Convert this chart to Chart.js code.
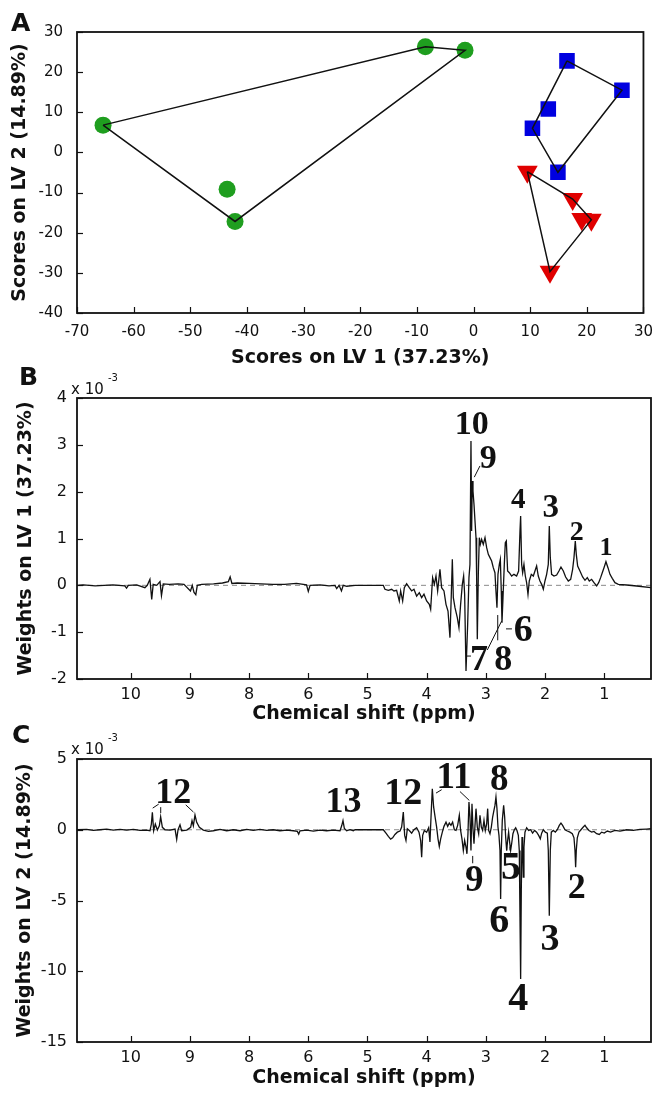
<!DOCTYPE html>
<html><head><meta charset="utf-8">
<script src="https://cdn.jsdelivr.net/npm/chart.js@4.4.1/dist/chart.umd.min.js"></script>
<style>
html,body{margin:0;padding:0;background:#fff;}
#fig{position:relative;width:663px;height:1097px;overflow:hidden;background:#fff;}
.panel{position:absolute;left:0;width:663px;}
.letter{position:absolute;font-family:"DejaVu Sans",sans-serif;font-weight:bold;font-size:25px;line-height:1;color:#111;}
.mult{position:absolute;font-family:"DejaVu Sans",sans-serif;font-size:15px;line-height:1;color:#111;white-space:nowrap;}
.sup{position:absolute;font-family:"DejaVu Sans",sans-serif;font-size:10px;line-height:1;color:#111;white-space:nowrap;}
</style></head>
<body>
<div id="fig">
  <div class="panel" style="top:0;height:372px;"><canvas id="cA"></canvas></div>
  <div class="panel" style="top:360px;height:370px;"><canvas id="cB"></canvas></div>
  <div class="panel" style="top:720px;height:377px;"><canvas id="cC"></canvas></div>
  <div class="letter" style="left:11px;top:10px;">A</div>
  <div class="letter" style="left:19px;top:364px;">B</div>
  <div class="letter" style="left:12px;top:722px;">C</div>
  <div class="mult" style="left:71px;top:382px;">x 10</div>
  <div class="sup" style="left:108px;top:373px;">-3</div>
  <div class="mult" style="left:71px;top:742px;">x 10</div>
  <div class="sup" style="left:108px;top:733px;">-3</div>
</div>
<script>
// ---------- Panel A: PLS-DA scores ----------
const greenX = [-65.4, -43.5, -42.1, -8.5, -1.5];
const greenY = [6.8, -9.2, -17.2, 26.3, 25.45];
const greenHull = [0, 3, 4, 2, 0];
const blueX = [16.5, 26.2, 13.2, 10.4, 14.9];
const blueY = [22.8, 15.5, 10.8, 6.0, -4.95];
const blueHull = [0, 1, 4, 3, 0];
const redX = [9.5, 17.5, 19.1, 20.8, 13.5];
const redY = [-4.8, -11.6, -16.6, -16.8, -29.7];
const redHull = [0, 1, 3, 4, 0];

// ---------- Panel B / C: loading spectra (axis units, weights x 1e-3) ----------
const ppmTickPos = [9, 8, 7, 6, 5, 4, 3, 2, 1];
const ppmTickLabels = ['10', '9', '8', '6', '5', '4', '3', '2', '1'];

const spectrumLV1 = [
[9.907,0],[9.8,0.01],[9.6,-0.01],[9.45,0.0],[9.3,0.01],[9.1,-0.01],[9.07,-0.06],[9.04,0.0],[8.9,0.01],[8.76,-0.05],[8.72,0.0],[8.675,0.13],[8.645,-0.3],[8.62,0.02],[8.56,0.0],[8.505,0.08],[8.48,-0.22],[8.45,0.03],[8.35,0.02],[8.2,0.03],[8.1,0.02],[7.99,-0.12],[7.96,0.0],[7.93,-0.15],[7.9,-0.2],[7.875,0.0],[7.8,0.02],[7.6,0.03],[7.45,0.05],[7.35,0.08],[7.32,0.18],[7.29,0.04],[7.2,0.05],[7.0,0.04],[6.8,0.03],[6.6,0.02],[6.4,0.02],[6.2,0.04],[6.03,0.01],[6.0,-0.13],[5.97,0.0],[5.8,0.01],[5.65,-0.01],[5.55,0.0],[5.52,-0.07],[5.48,0.0],[5.44,-0.12],[5.41,0.0],[5.35,-0.02],[5.21,0.0],
[4.733,0.0],[4.705,-0.085],[4.648,-0.107],[4.592,-0.085],[4.553,-0.12],[4.508,-0.107],[4.463,-0.335],[4.44,-0.12],[4.406,-0.335],[4.378,-0.05],[4.339,0.036],[4.294,-0.05],[4.254,-0.12],[4.215,-0.085],[4.17,-0.23],[4.125,-0.157],[4.085,-0.263],[4.046,-0.19],[4.001,-0.335],[3.956,-0.406],[3.933,-0.512],[3.9,0.164],[3.871,0.02],[3.843,0.2],[3.815,-0.12],[3.776,0.342],[3.748,-0.05],[3.708,-0.12],[3.674,-0.406],[3.64,-0.548],[3.607,-1.117],[3.584,-0.19],[3.567,0.555],[3.55,-0.263],[3.522,-0.477],[3.483,-0.69],[3.455,-0.904],[3.427,-0.406],[3.398,0.02],[3.376,0.2],[3.359,-0.19],[3.336,-1.829],[3.308,-0.833],[3.286,0.164],[3.269,0.448],[3.252,3.082],[3.241,1.16],[3.23,2.228],[3.218,2.014],[3.201,1.73],[3.184,1.374],[3.167,1.018],[3.156,0.164],[3.145,-1.153],[3.128,0.235],[3.111,1.018],[3.094,0.875],[3.072,0.982],[3.044,0.875],[3.015,1.018],[2.987,0.804],[2.959,0.662],[2.931,0.591],[2.903,0.52],[2.875,0.377],[2.847,0.27],[2.83,-0.121],[2.813,-0.477],[2.796,0.235],[2.773,0.448],[2.756,0.555],[2.74,-0.121],[2.728,-0.797],[2.711,-0.263],[2.689,0.448],[2.672,0.911],[2.655,0.947],[2.633,0.306],[2.604,0.27],[2.565,0.199],[2.526,0.235],[2.481,0.199],[2.447,0.306],[2.424,1.16],[2.413,1.48],[2.396,0.448],[2.379,0.27],[2.357,0.448],[2.334,0.199],[2.312,0.057],[2.289,-0.192],[2.267,0.093],[2.233,0.235],[2.199,0.199],[2.171,0.306],[2.143,0.413],[2.115,0.199],[2.087,0.093],[2.058,0.021],[2.03,-0.085],[2.002,0.093],[1.974,0.235],[1.946,0.448],[1.929,1.267],[1.912,0.591],[1.89,0.235],[1.85,0.199],[1.805,0.221],[1.766,0.306],[1.732,0.391],[1.692,0.306],[1.653,0.178],[1.608,0.093],[1.568,0.128],[1.535,0.342],[1.512,0.591],[1.49,0.947],[1.473,0.662],[1.45,0.413],[1.411,0.306],[1.366,0.178],[1.326,0.107],[1.287,0.164],[1.253,0.093],[1.214,0.128],[1.174,0.057],[1.129,-0.014],[1.095,0.057],[1.062,0.164],[1.034,0.27],[1.005,0.377],[0.972,0.505],[0.938,0.377],[0.904,0.235],[0.865,0.149],[0.82,0.057],[0.763,0.021],[0.622,0.007],[0.454,-0.014],[0.211,-0.05]
];

const spectrumLV2 = [
[9.907,0],[9.744,0.02],[9.631,-0.05],[9.518,0],[9.406,0.05],[9.293,-0.02],[9.18,0.02],[9.068,-0.02],[8.955,0.02],[8.843,-0.05],[8.73,-0.02],[8.674,-0.07],[8.651,0.4],[8.634,1.23],[8.612,-0.07],[8.584,0.4],[8.55,-0.02],[8.516,0.28],[8.494,0.92],[8.465,0.17],[8.42,0],[8.336,-0.02],[8.251,0.05],[8.223,-0.68],[8.201,-0.02],[8.167,0.35],[8.139,-0.07],[8.054,-0.02],[7.987,0.17],[7.964,0.64],[7.942,0.28],[7.914,1.04],[7.885,0.52],[7.84,0.17],[7.773,-0.02],[7.688,-0.12],[7.604,-0.07],[7.491,0.02],[7.379,-0.07],[7.266,0],[7.153,-0.07],[7.041,0.02],[6.928,-0.05],[6.816,0.02],[6.703,-0.05],[6.59,0],[6.478,-0.07],[6.365,-0.02],[6.253,-0.07],[6.185,-0.12],[6.162,-0.31],[6.14,-0.07],[6.027,-0.02],[5.915,-0.09],[5.802,-0.02],[5.69,-0.07],[5.577,-0.02],[5.464,-0.07],[5.436,0.28],[5.414,0.64],[5.391,0.09],[5.352,-0.07],[5.295,0],[5.239,-0.07],[5.211,0],
[4.733,0],[4.688,-0.24],[4.648,-0.47],[4.609,-0.66],[4.575,-0.57],[4.536,-0.33],[4.496,-0.17],[4.451,-0.09],[4.423,0.19],[4.395,1.25],[4.372,-0.4],[4.35,-0.76],[4.327,0.07],[4.294,-0.05],[4.254,-0.24],[4.215,0],[4.17,0.14],[4.13,-0.17],[4.102,-0.76],[4.085,-1.94],[4.068,-0.4],[4.04,-0.05],[4.001,-0.17],[3.967,0.14],[3.945,-0.87],[3.922,1.37],[3.905,2.9],[3.883,1.61],[3.854,0.78],[3.832,0.19],[3.809,-0.64],[3.787,-1.18],[3.764,-0.64],[3.736,-0.17],[3.708,0.24],[3.674,0.54],[3.646,0.24],[3.618,0.47],[3.59,0.31],[3.562,0.54],[3.533,0],[3.505,-0.05],[3.477,0.31],[3.449,1.02],[3.427,-0.05],[3.404,-0.64],[3.381,-1.46],[3.359,-0.76],[3.336,-1.23],[3.32,-1.7],[3.303,-0.28],[3.286,1.96],[3.269,0.9],[3.252,-1.46],[3.235,1.84],[3.218,0.07],[3.201,-0.99],[3.184,0.31],[3.167,1.49],[3.145,0.19],[3.122,-0.28],[3.1,1.02],[3.077,0.19],[3.055,-0.05],[3.032,0.66],[3.01,-0.05],[2.987,0.42],[2.97,1.49],[2.953,-0.05],[2.931,-0.28],[2.908,0.19],[2.886,0.9],[2.864,1.37],[2.847,1.72],[2.83,2.31],[2.813,1.49],[2.796,0.19],[2.779,-0.4],[2.762,-1.46],[2.751,-4.89],[2.74,-1.46],[2.723,0.66],[2.7,1.72],[2.683,0.9],[2.666,-0.52],[2.649,-1.46],[2.633,-0.76],[2.616,-0.17],[2.599,-0.87],[2.582,-1.46],[2.565,-0.99],[2.543,-0.28],[2.52,0],[2.497,0.14],[2.475,-0.05],[2.452,-0.4],[2.436,-1.46],[2.424,-6.19],[2.413,-10.55],[2.402,-4.3],[2.39,-0.52],[2.379,-1.23],[2.368,-3.35],[2.357,-1.23],[2.34,-0.17],[2.312,0.14],[2.278,-0.05],[2.244,0],[2.211,-0.24],[2.177,-0.05],[2.143,-0.17],[2.109,-0.4],[2.081,-0.64],[2.058,-0.24],[2.03,0],[1.996,-0.17],[1.962,-0.24],[1.946,-1.46],[1.929,-6.07],[1.912,-1.46],[1.895,-0.17],[1.861,-0.05],[1.827,-0.17],[1.794,0],[1.76,0.31],[1.732,0.47],[1.704,0.31],[1.664,0],[1.625,-0.09],[1.58,-0.17],[1.54,-0.28],[1.512,-0.57],[1.495,-1.46],[1.484,-2.64],[1.473,-1.46],[1.456,-0.57],[1.428,-0.17],[1.394,0],[1.355,0.19],[1.326,0.31],[1.298,0.14],[1.259,-0.05],[1.214,-0.17],[1.174,-0.12],[1.129,-0.28],[1.084,-0.33],[1.045,-0.17],[1.0,-0.24],[0.949,-0.09],[0.893,-0.17],[0.82,-0.05],[0.735,-0.09],[0.622,0],[0.51,-0.05],[0.397,0.02],[0.285,0.05],[0.211,0.07]
];

// peak annotations: [text, ppm, weight, fontSize]
const peakLabelsB = [
  ['10', 3.24, 3.47, 34], ['9', 2.96, 2.76, 34], ['4', 2.453, 1.87, 29], ['3', 1.904, 1.69, 33],
  ['2', 1.466, 1.16, 28], ['1', 0.97, 0.84, 26], ['6', 2.368, -0.905, 38], ['7', 3.116, -1.546, 36], ['8', 2.706, -1.546, 36]
];
const leaderLinesB = [
  [3.196, 2.31, 3.10, 2.55], [2.66, -0.93, 2.56, -0.93], [3.324, -1.51, 3.252, -1.51],
  [2.976, -1.38, 2.733, -0.76], [2.80, -0.634, 2.80, -1.174]
];
const peakLabelsC = [
  ['12', 8.28, 2.75, 36], ['13', 5.404, 2.12, 36], ['12', 4.395, 2.7, 38], ['11', 3.539, 3.82, 37],
  ['8', 2.775, 3.71, 37], ['9', 3.198, -3.48, 37], ['5', 2.576, -2.54, 40], ['6', 2.775, -6.26, 40],
  ['4', 2.453, -11.75, 40], ['3', 1.917, -7.56, 38], ['2', 1.466, -3.96, 36]
];
const leaderLinesC = [
  [8.628, 1.53, 8.527, 1.81], [8.493, 1.60, 8.493, 1.18], [8.07, 1.76, 7.94, 1.25],
  [3.843, 2.59, 3.747, 2.83], [3.438, 2.70, 3.28, 2.07], [3.223, -1.85, 3.223, -2.37],
  [2.649, -1.19, 2.649, -1.47], [2.593, -1.19, 2.593, -1.47]
];

// ---------- shared styling ----------
const INK = '#111';
const SANS = '"DejaVu Sans", sans-serif';
const framePlugin = {
  id: 'frameTicks',
  afterDatasetsDraw(chart) {
    const {ctx, chartArea: a} = chart;
    const xs = chart.scales.x, ys = chart.scales.y;
    ctx.save();
    ctx.strokeStyle = INK;
    ctx.lineWidth = 1.2;
    xs.ticks.forEach(t => {
      const p = Math.round(xs.getPixelForValue(t.value)) + 0.5;
      ctx.beginPath(); ctx.moveTo(p, a.bottom); ctx.lineTo(p, a.bottom - 6); ctx.stroke();
    });
    ys.ticks.forEach(t => {
      const p = Math.round(ys.getPixelForValue(t.value)) + 0.5;
      ctx.beginPath(); ctx.moveTo(a.left, p); ctx.lineTo(a.left + 6, p); ctx.stroke();
    });
    ctx.lineWidth = 1.8;
    ctx.strokeRect(a.left, a.top, a.right - a.left, a.bottom - a.top);
    ctx.restore();
  }
};
function annotationPlugin(labels, leaders) {
  return {
    id: 'peakAnnotations',
    afterDatasetsDraw(chart) {
      const {ctx} = chart;
      const xs = chart.scales.x, ys = chart.scales.y;
      ctx.save();
      ctx.strokeStyle = INK; ctx.lineWidth = 1;
      leaders.forEach(l => {
        ctx.beginPath();
        ctx.moveTo(xs.getPixelForValue(l[0]), ys.getPixelForValue(l[1]));
        ctx.lineTo(xs.getPixelForValue(l[2]), ys.getPixelForValue(l[3]));
        ctx.stroke();
      });
      ctx.fillStyle = INK; ctx.textAlign = 'center'; ctx.textBaseline = 'alphabetic';
      labels.forEach(l => {
        ctx.font = 'bold ' + l[3] + 'px "Liberation Serif", "Times New Roman", serif';
        ctx.fillText(l[0], xs.getPixelForValue(l[1]), ys.getPixelForValue(l[2]) + 0.338 * l[3]);
      });
      ctx.restore();
    }
  };
}

function pts(xs, ys, idx) { return (idx || xs.map((_, i) => i)).map(i => ({x: xs[i], y: ys[i]})); }
function hull(xs, ys, idx) {
  return {data: pts(xs, ys, idx), showLine: true, borderColor: INK, borderWidth: 1.5, pointRadius: 0, fill: false, order: 0};
}
function markers(xs, ys, color, style, r, rot) {
  return {data: pts(xs, ys), showLine: false, pointStyle: style, pointRadius: r, pointRotation: rot || 0,
    backgroundColor: color, borderColor: color, pointBorderWidth: 0, order: 1};
}

Chart.defaults.font.family = SANS;
Chart.defaults.color = INK;
const noGrid = {display: false, drawTicks: false};

new Chart(document.getElementById('cA'), {
  type: 'scatter',
  data: {datasets: [
    hull(greenX, greenY, greenHull), hull(blueX, blueY, blueHull), hull(redX, redY, redHull),
    markers(greenX, greenY, '#1f9e1f', 'circle', 8.5),
    markers(blueX, blueY, '#0000e0', 'rect', 11),
    markers(redX, redY, '#e00000', 'triangle', 12, 180)
  ]},
  options: {
    animation: false, responsive: true, maintainAspectRatio: false, events: [],
    layout: {padding: {top: 32, right: 12, left: 0, bottom: 0}},
    plugins: {legend: {display: false}, tooltip: {enabled: false}},
    scales: {
      x: {type: 'linear', min: -70, max: 30,
        ticks: {stepSize: 10, font: {size: 15}, color: INK, padding: 10, maxRotation: 0, autoSkip: false},
        grid: noGrid, border: {display: false},
        title: {display: true, text: 'Scores on LV 1 (37.23%)', color: INK, font: {size: 19, weight: 'bold'}, padding: {top: 0, bottom: 3}},
        afterFit: s => { s.height = 59; }},
      y: {type: 'linear', min: -40, max: 30,
        ticks: {stepSize: 10, font: {size: 15}, color: INK, padding: 14},
        grid: noGrid, border: {display: false},
        title: {display: true, text: 'Scores on LV 2 (14.89%)', color: INK, font: {size: 19, weight: 'bold'}, padding: {top: 9, bottom: 0}},
        afterFit: s => { s.width = 77; }}
    }
  },
  plugins: [framePlugin]
});

function spectrumChart(id, spectrum, yMin, yMax, yStep, yTitle, topPad, xAxisH, titleBottomPad, yTitlePad, labels, leaders) {
  const xmin = 0.211, xmax = 9.907;
  return new Chart(document.getElementById(id), {
    type: 'scatter',
    data: {datasets: [
      {data: spectrum.map(p => ({x: p[0], y: p[1]})), showLine: true, borderColor: INK, borderWidth: 1.3, pointRadius: 0, order: 0},
      {data: [{x: xmin, y: 0}, {x: xmax, y: 0}], showLine: true, borderColor: '#8a8a8a', borderWidth: 1, borderDash: [5, 4], pointRadius: 0, order: 1}
    ]},
    options: {
      animation: false, responsive: true, maintainAspectRatio: false, events: [],
      layout: {padding: {top: topPad, right: 12, left: 0, bottom: 0}},
      plugins: {legend: {display: false}, tooltip: {enabled: false}},
      scales: {
        x: {type: 'linear', reverse: true, min: xmin, max: xmax,
          afterBuildTicks: s => { s.ticks = ppmTickPos.map(v => ({value: v})); },
          ticks: {font: {size: 16}, color: INK, padding: 6, maxRotation: 0, autoSkip: false,
            callback: (v, i) => ppmTickLabels[i]},
          grid: noGrid, border: {display: false},
          title: {display: true, text: 'Chemical shift (ppm)', color: INK, font: {size: 19, weight: 'bold'}, padding: {top: 0, bottom: titleBottomPad}},
          afterFit: s => { s.height = xAxisH; }},
        y: {type: 'linear', min: yMin, max: yMax,
          ticks: {stepSize: yStep, font: {size: 16}, color: INK, padding: 10},
          grid: noGrid, border: {display: false},
          title: {display: true, text: yTitle, color: INK, font: {size: 19, weight: 'bold'}, padding: {top: yTitlePad, bottom: 0}},
          afterFit: s => { s.width = 77; }}
      }
    },
    plugins: [framePlugin, annotationPlugin(labels, leaders)]
  });
}

spectrumChart('cB', spectrumLV1, -2, 4, 1, 'Weights on LV 1 (37.23%)', 38, 51, 4.6, 15, peakLabelsB, leaderLinesB);
spectrumChart('cC', spectrumLV2, -15, 5, 5, 'Weights on LV 2 (14.89%)', 39, 55, 8, 14, peakLabelsC, leaderLinesC);
</script>
</body></html>
